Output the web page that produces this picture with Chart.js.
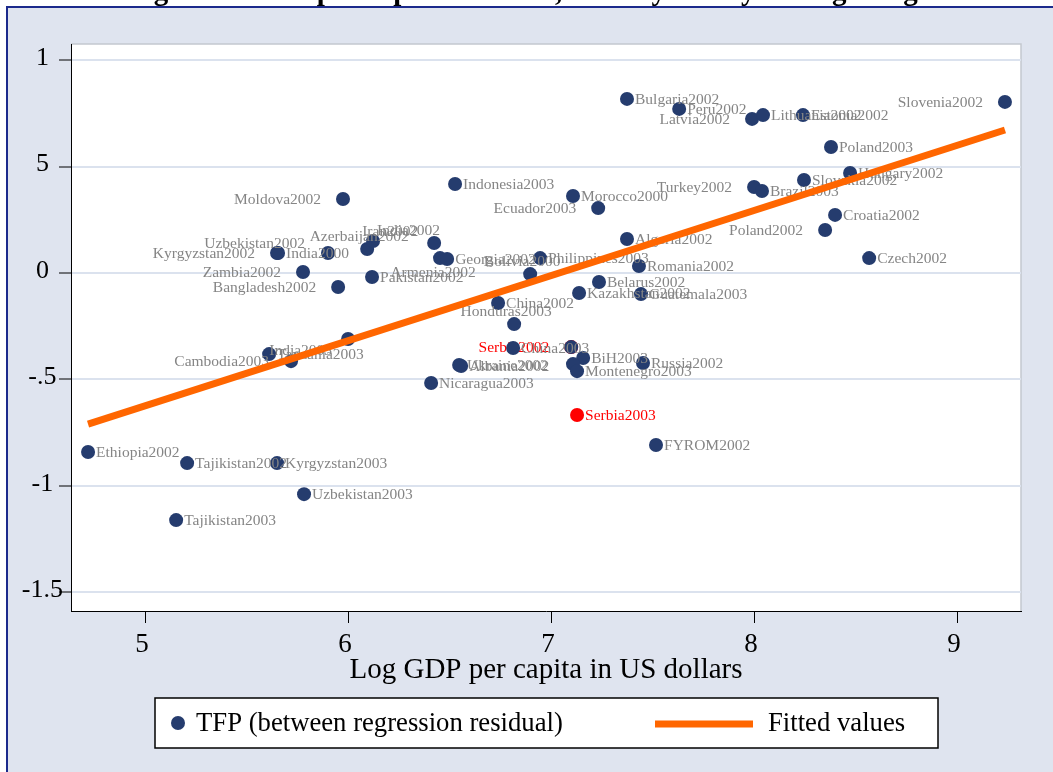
<!DOCTYPE html>
<html>
<head>
<meta charset="utf-8">
<script src="https://cdn.jsdelivr.net/npm/chart.js@4.4.1/dist/chart.umd.min.js"></script>
<style>
html, body { margin: 0; padding: 0; background: #fff; }
#wrap { width: 1053px; height: 772px; position: relative; }
</style>
</head>
<body>
<div id="wrap"><canvas id="myGraph"></canvas></div>
<script>
// values: log GDP per capita (x) vs TFP residual (y)
const countries = ['Ethiopia2002', 'Tajikistan2002', 'Kyrgyzstan2003', 'Uzbekistan2003', 'Tajikistan2003',
    'Tanzania2003', 'Cambodia2003', 'India2003', 'Moldova2002', 'Kyrgyzstan2002', 'India2000', 'Uzbekistan2002',
    'Zambia2002', 'Bangladesh2002', 'Azerbaijan2002', 'India2002', 'Pakistan2002', 'Iran2002', 'Armenia2002',
    'Georgia2002', 'Indonesia2003', 'Nicaragua2003', 'Ukraine2002', 'Albania2002', 'China2002', 'Honduras2003',
    'China2003', 'Bolivia2000', 'Philippines2003', '', 'Morocco2000', 'Ecuador2003', 'Kazakhstan2002',
    'Belarus2002', 'Algeria2002', 'Romania2002', 'Guatemala2003', 'BiH2003', '', 'Montenegro2003', 'Russia2002',
    'FYROM2002', 'Bulgaria2002', 'Peru2002', 'Latvia2002', 'Lithuania2002', 'Estonia2002', 'Slovenia2002',
    'Poland2003', 'Turkey2002', 'Brazil2003', 'Slovakia2002', 'Hungary2002', 'Croatia2002', 'Poland2002', 'Czech2002'];
const logGdp = [4.719, 5.207, 5.650, 5.783, 5.153,
    5.611, 5.719, 6.000, 5.975, 5.650, 5.655, 5.901,
    5.778, 5.951, 6.094, 6.123, 6.118, 6.424, 6.453,
    6.488, 6.527, 6.409, 6.547, 6.557, 6.739, 6.818,
    6.813, 6.897, 6.946, 7.099, 7.108, 7.232, 7.138,
    7.236, 7.374, 7.433, 7.443, 7.158, 7.108, 7.128, 7.453,
    7.517, 7.374, 7.631, 7.990, 8.044, 8.241, 9.236,
    8.379, 8.000, 8.039, 8.246, 8.473, 8.399, 8.350, 8.567];
const tfpResid = [-0.841, -0.893, -0.893, -1.039, -1.161,
    -0.381, -0.414, -0.310, 0.348, 0.094, 0.094, 0.094,
    0.005, -0.066, 0.113, 0.150, -0.019, 0.141, 0.070,
    0.066, 0.418, -0.517, -0.432, -0.437, -0.141, -0.240,
    -0.352, -0.005, 0.070, -0.348, 0.362, 0.305, -0.094,
    -0.042, 0.160, 0.033, -0.099, -0.399, -0.428, -0.461, -0.423,
    -0.808, 0.818, 0.771, 0.724, 0.742, 0.742, 0.804,
    0.592, 0.404, 0.385, 0.437, 0.470, 0.273, 0.202, 0.070];
// marker label clock position (like Stata mlabvposition)
const labelClock = [3, 3, 3, 3, 3,
    3, 9, 7, 9, 9, 3, 10,
    9, 9, 12, 1, 3, 11, 6,
    3, 3, 3, 3, 3, 3, 12,
    3, 12, 3, 3, 3, 9, 3,
    3, 3, 3, 3, 3, 3, 3, 3,
    3, 3, 3, 9, 3, 3, 9,
    3, 9, 3, 3, 3, 3, 9, 3];

const serbiaNames = ['Serbia2002', 'Serbia2003'];
const serbiaGdp = [7.099, 7.128];
const serbiaTfp = [-0.348, -0.667];
const serbiaClock = [9, 3];

const fitGdp = [4.719, 9.236];
const fitTfp = [-0.710, 0.672];

const xTicks = [5, 6, 7, 8, 9];
const yTicks = [-1.5, -1, -0.5, 0, 0.5, 1];
const yTickLabels = ['-1.5', '-1', '-.5', '0', '5', '1'];

const navy = '#253c6e';
const orange = '#ff6600';
const serif = '"Liberation Serif", "Times New Roman", serif';

function clockOffset(c) {
    switch (c) {
        case 0: return {dx: -3, dy: 0, align: 'center'};
        case 1: return {dx: 4, dy: -10, align: 'left'};
        case 6: return {dx: -7, dy: 15, align: 'center'};
        case 7: return {dx: -16, dy: 12, align: 'right'};
        case 9: return {dx: -22, dy: 1, align: 'right'};
        case 10: return {dx: -23, dy: -9, align: 'right'};
        case 11: return {dx: -16, dy: -11, align: 'right'};
        case 12: return {dx: -8, dy: -12, align: 'center'};
        default: return {dx: 8, dy: 1, align: 'left'};
    }
}

/*fondo, marco azul y título cortado arriba*/
const backdrop = {
    id: 'backdrop',
    beforeDraw(chart) {
        const ctx = chart.ctx, a = chart.chartArea;
        ctx.save();
        ctx.fillStyle = '#ffffff';
        ctx.fillRect(0, 0, chart.width, chart.height);
        ctx.fillStyle = '#dfe4ef';
        ctx.fillRect(8, 8, chart.width - 8, chart.height - 8);
        ctx.strokeStyle = '#1b2a8c';
        ctx.lineWidth = 2;
        ctx.beginPath();
        ctx.moveTo(7, chart.height);
        ctx.lineTo(7, 7);
        ctx.lineTo(chart.width, 7);
        ctx.stroke();
        ctx.fillStyle = '#ffffff';
        ctx.fillRect(a.left, a.top, a.right - a.left, a.bottom - a.top);
        ctx.strokeStyle = '#c4c8cf';
        ctx.lineWidth = 1.5;
        ctx.beginPath();
        ctx.moveTo(a.left, a.top);
        ctx.lineTo(a.right, a.top);
        ctx.lineTo(a.right, a.bottom);
        ctx.stroke();
        // title, only its lower edge is left in the picture
        ctx.fillStyle = '#000';
        ctx.font = 'bold 29px ' + serif;
        ctx.textAlign = 'left';
        ctx.textBaseline = 'alphabetic';
        ctx.fillText('Figure 4: GDP per capita and TFP, country survey averages regression', 128, 0);
        ctx.restore();
    }
};

const pointLabels = {
    id: 'pointLabels',
    afterDatasetDraw(chart, args) {
        const ds = chart.data.datasets[args.index];
        if (!ds.names) return;
        const ctx = chart.ctx;
        ctx.save();
        ctx.font = '15.5px ' + serif;
        ctx.fillStyle = ds.labelColor;
        ctx.textBaseline = 'middle';
        args.meta.data.forEach((pt, i) => {
            if (!ds.names[i]) return;
            const o = clockOffset(ds.clock[i]);
            ctx.textAlign = o.align;
            ctx.fillText(ds.names[i], pt.x + o.dx, pt.y + o.dy);
        });
        ctx.restore();
    }
};

const legendBox = {
    id: 'legendBox',
    afterDraw(chart) {
        const ctx = chart.ctx;
        const dsPts = chart.data.datasets[1], dsFit = chart.data.datasets[2];
        ctx.save();
        ctx.fillStyle = '#fff';
        ctx.fillRect(155, 698, 783, 50);
        ctx.strokeStyle = '#000';
        ctx.lineWidth = 1.5;
        ctx.strokeRect(155, 698, 783, 50);
        ctx.fillStyle = navy;
        ctx.beginPath();
        ctx.arc(178, 723, 7, 0, Math.PI * 2);
        ctx.fill();
        ctx.fillStyle = '#000';
        ctx.font = '26.7px ' + serif;
        ctx.textBaseline = 'middle';
        ctx.textAlign = 'left';
        ctx.fillText(dsPts.label, 196, 724);
        ctx.strokeStyle = orange;
        ctx.lineWidth = 7;
        ctx.beginPath();
        ctx.moveTo(655, 724);
        ctx.lineTo(753, 724);
        ctx.stroke();
        ctx.fillText(dsFit.label, 768, 724);
        ctx.restore();
    }
};

let myGraph;

function plotGraph() {
    const ctx = document.getElementById('myGraph').getContext('2d');

    const serbia = {
        label: 'Serbia',
        data: serbiaGdp.map((v, i) => ({x: v, y: serbiaTfp[i]})),
        names: serbiaNames,
        clock: serbiaClock,
        labelColor: '#ff0000',
        backgroundColor: '#ff0000',
        borderWidth: 0,
        pointRadius: 7,
        order: 3
    };
    const points = {
        label: 'TFP (between regression residual)',
        data: logGdp.map((v, i) => ({x: v, y: tfpResid[i]})),
        names: countries,
        clock: labelClock,
        labelColor: '#858585',
        backgroundColor: navy,
        borderWidth: 0,
        pointRadius: 7,
        order: 2
    };
    const fitted = {
        type: 'line',
        label: 'Fitted values',
        data: fitGdp.map((v, i) => ({x: v, y: fitTfp[i]})),
        borderColor: orange,
        borderWidth: 7,
        borderCapStyle: 'butt',
        pointRadius: 0,
        fill: false,
        showLine: true,
        order: 1
    };

    if (myGraph) {
        myGraph.destroy();
    }

    myGraph = new Chart(ctx, {
        type: 'scatter',
        data: {datasets: [serbia, points, fitted]},
        plugins: [backdrop, pointLabels, legendBox],
        options: {
            responsive: true,
            maintainAspectRatio: false,
            animation: false,
            layout: {padding: {left: 0, top: 44, right: 32, bottom: 87}},
            plugins: {legend: {display: false}, tooltip: {enabled: false}},
            scales: {
                x: {
                    type: 'linear',
                    min: 4.635,
                    max: 9.315,
                    afterBuildTicks: s => { s.ticks = xTicks.map(v => ({value: v})); },
                    afterFit: s => { s.height = 74; },
                    grid: {drawOnChartArea: false, tickLength: 12, tickColor: '#000', tickWidth: 1},
                    border: {color: '#000', width: 1},
                    ticks: {
                        color: '#000', padding: 8, labelOffset: -3, maxRotation: 0,
                        font: {family: serif, size: 27, lineHeight: 1.0}
                    },
                    title: {
                        display: true,
                        text: 'Log GDP per capita in US dollars',
                        color: '#000',
                        padding: {top: 2, bottom: 0},
                        font: {family: serif, size: 29, lineHeight: 1.0}
                    }
                },
                y: {
                    type: 'linear',
                    min: -1.588,
                    max: 1.076,
                    afterBuildTicks: s => { s.ticks = yTicks.map(v => ({value: v})); },
                    afterFit: s => { s.width = 71; },
                    grid: {color: '#dbe2ee', lineWidth: 2, tickLength: 12, tickColor: '#000', tickWidth: 1},
                    border: {color: '#000', width: 1},
                    ticks: {
                        color: '#000', padding: -4, labelOffset: -2, crossAlign: 'center',
                        font: {family: serif, size: 26, lineHeight: 1.0},
                        callback: (v) => yTickLabels[yTicks.indexOf(v)]
                    }
                }
            }
        }
    });
}

plotGraph();
</script>
</body>
</html>
